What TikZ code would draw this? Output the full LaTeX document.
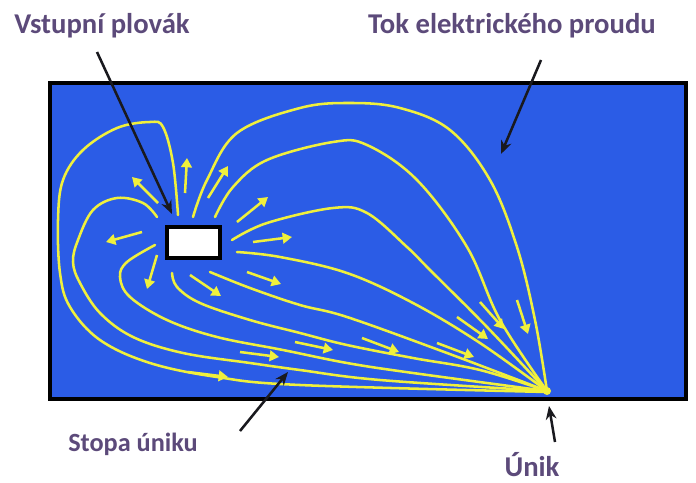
\documentclass[tikz,border=0pt]{standalone}
\usepackage{fontspec}
\setmainfont{Carlito}
\usetikzlibrary{arrows.meta}
\definecolor{tankblue}{RGB}{43,92,230}
\definecolor{fieldyellow}{RGB}{240,240,60}
\definecolor{labelpurple}{RGB}{92,74,122}
\definecolor{pointer}{RGB}{25,25,30}
\tikzset{
  field/.style={draw=fieldyellow, line width=1.9pt, line cap=round},
  yarrow/.style={draw=fieldyellow, fill=fieldyellow, line width=1.9pt, -{Triangle[length=7pt,width=8pt]}},
  pointerarrow/.style={draw=pointer, line width=1.9pt, -{Stealth[length=10pt,width=8pt]}},
  lbl/.style={text=labelpurple, font=\bfseries\fontsize{21.5}{26}\selectfont, anchor=base, inner sep=0pt},
}
\begin{document}
\begin{tikzpicture}[x=0.75pt,y=-0.75pt]
\useasboundingbox (0,0) rectangle (696,482);
\fill[white] (0,0) rectangle (696,482);
% tank
\draw[fill=tankblue, draw=black, line width=2.4pt] (50,83) rectangle (686,399);
% leak point
\coordinate (L) at (547,391);
% field lines
\draw[field] plot[smooth, tension=0.6] coordinates {(193,217) (207,180) (237,133) (300,108) (350,103) (400,108) (450,130) (490,180) (517,247) (535,320) (547,391)};
\draw[field] plot[smooth, tension=0.6] coordinates {(215,217) (233,187) (267,160) (333,142) (367,145) (417,180) (467,247) (500,320) (547,391)};
\draw[field] plot[smooth, tension=0.6] coordinates {(232,240) (267,223) (333,208) (367,213) (407,247) (430,270) (487,327) (547,391)};
\draw[field] plot[smooth, tension=0.6] coordinates {(237,252) (280,257) (347,273) (413,303) (480,343) (547,391)};
\draw[field] plot[smooth, tension=0.6] coordinates {(210,272) (250,288) (300,305) (347,317) (447,353) (547,391)};
\draw[field] plot[smooth, tension=0.6] coordinates {(172,273) (177,287) (200,303) (250,320) (300,333) (347,345) (413,358) (480,370) (547,391)};
\draw[field] plot[smooth, tension=0.6] coordinates {(155,245) (127,262) (120,277) (130,297) (167,320) (217,337) (283,350) (347,363) (413,373) (547,391)};
\draw[field] plot[smooth, tension=0.6] coordinates {(157,217) (143,203) (117,198) (93,210) (78,240) (73,262) (80,283) (100,313) (133,337) (183,353) (250,363) (300,370) (380,380) (547,391)};
\draw[field] plot[smooth, tension=0.6] coordinates {(178,215) (173,163) (163,127) (150,122) (117,128) (83,150) (63,180) (58,220) (60,273) (70,307) (100,340) (150,363) (217,377) (300,385) (547,392)};
\fill[fieldyellow] (L) circle (4);
% small yellow arrows
\draw[yarrow] (158,203) -- (132,177);
\draw[yarrow] (185,193) -- (187,158);
\draw[yarrow] (208,198) -- (228,166);
\draw[yarrow] (237,222) -- (268,197);
\draw[yarrow] (253,242) -- (292,237);
\draw[yarrow] (142,232) -- (106,242);
\draw[yarrow] (157,255) -- (147,289);
\draw[yarrow] (190,275) -- (221,296);
\draw[yarrow] (247,272) -- (281,284);
\draw[yarrow] (240,352) -- (279,357);
\draw[yarrow] (188,372) -- (228,377);
\draw[yarrow] (295,342) -- (333,350);
\draw[yarrow] (362,338) -- (399,352);
\draw[yarrow] (437,343) -- (474,357);
\draw[yarrow] (457,317) -- (488,339);
\draw[yarrow] (480,302) -- (504,329);
\draw[yarrow] (517,300) -- (528,334);
% float
\draw[fill=white, draw=black, line width=3.4pt] (167,227) rectangle (220,258);
% labels
\node[lbl] (vstup) at (102,33) {Vstupní plovák};
\node[lbl] (tok) at (512,33) {Tok elektrického proudu};
\node[lbl, font=\bfseries\fontsize{19.7}{24}\selectfont] (stopa) at (133,451) {Stopa úniku};
\node[lbl] (unik) at (532,476) {Únik};
% pointer arrows
\coordinate (vs) at (97,52);   \coordinate (ve) at (172,214);
\coordinate (ts) at (541,60);  \coordinate (te) at (501,154);
\coordinate (ss) at (240,431); \coordinate (se) at (288,372);
\coordinate (us) at (555,442); \coordinate (ue) at (549,406);
\draw[pointerarrow] (vs) -- (ve);
\draw[pointerarrow] (ts) -- (te);
\draw[pointerarrow] (ss) -- (se);
\draw[pointerarrow] (us) -- (ue);
\end{tikzpicture}
\end{document}
